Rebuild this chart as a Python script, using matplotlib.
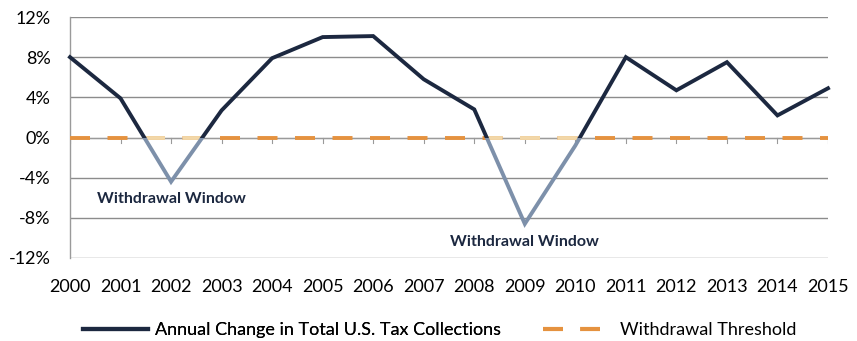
import numpy as np
import matplotlib
matplotlib.use("Agg")
import matplotlib.pyplot as plt
from matplotlib.patches import Rectangle
from matplotlib.lines import Line2D

years = list(range(2000, 2016))
tax_change = [8.0, 3.9, -4.4, 2.7, 7.9, 10.0, 10.1, 5.8, 2.8, -8.6, -0.8, 8.0, 4.7, 7.5, 2.2, 4.9]
threshold = [0.0] * len(years)
y_ticks = [-12, -8, -4, 0, 4, 8, 12]
window_labels = ["Withdrawal Window", "Withdrawal Window"]
window_label_pos = [(2002, -6.1), (2009, -10.4)]

DARK = "#1c2840"
LIGHT = "#7d90aa"
ORANGE = "#e5923f"
ORANGE_FADED = "#f2d7a8"

plt.rcParams['font.family'] = ['Lato', 'DejaVu Sans']

fig = plt.figure(figsize=(8.57, 3.41), dpi=100)
ax = fig.add_axes([70/857, 1-258/341, (828-70)/857, (258-17)/341])

ax.set_xlim(years[0], years[-1])
ax.set_ylim(-12, 12)
ax.set_yticks(y_ticks)
ax.set_yticklabels([f"{t}%" for t in y_ticks], fontsize=13)
ax.set_xticks(years)
ax.set_xticklabels([str(y) for y in years], fontsize=13)
ax.tick_params(axis='x', length=0, pad=15)
ax.tick_params(axis='y', length=0, pad=14)
for s in ['top', 'right', 'bottom']:
    ax.spines[s].set_visible(False)
ax.spines['left'].set_color('#9a9a9a')
ax.spines['left'].set_linewidth(1.0)
ax.yaxis.grid(True, color='#8c8c8c', linewidth=1.0)
ax.set_axisbelow(True)

# zero axis with small tick marks at each year
ax.axhline(0, color='#9a9a9a', linewidth=0.8, zorder=1)
for y in years:
    ax.plot([y, y], [0, -0.5], color='#9a9a9a', linewidth=0.8, zorder=1)

# determine spans where collections fall below threshold
x = np.array(years, dtype=float)
v = np.array(tax_change)
spans = []
start = None
for i in range(len(x) - 1):
    a, b = v[i], v[i+1]
    if a >= 0 and b < 0:
        start = x[i] + (x[i+1]-x[i]) * a / (a - b)
    if a < 0 and b >= 0:
        end = x[i] + (x[i+1]-x[i]) * a / (a - b)
        spans.append((start, end))

LW = 2.8
DASH = (14.4 / LW, 12.6 / LW)

# threshold line: normal color outside windows, faded inside
thr = ax.plot(years, threshold, color=ORANGE, linewidth=LW, zorder=3,
              dashes=DASH, dash_capstyle='butt')[0]
for (s0, s1) in spans:
    fl = ax.plot(years, threshold, color=ORANGE_FADED, linewidth=LW, zorder=3,
                 dashes=DASH, dash_capstyle='butt')[0]
    fl.set_clip_path(Rectangle((s0, -20), s1 - s0, 40, transform=ax.transData))

# tax line: dark above zero, light below zero
above = ax.plot(years, tax_change, color=DARK, linewidth=LW, zorder=4,
                solid_joinstyle='miter')[0]
above.set_clip_path(Rectangle((1990, 0), 40, 40, transform=ax.transData))
below = ax.plot(years, tax_change, color=LIGHT, linewidth=LW, zorder=4,
                solid_joinstyle='miter')[0]
below.set_clip_path(Rectangle((1990, -40), 40, 40, transform=ax.transData))

for txt, (xx, yy) in zip(window_labels, window_label_pos):
    ax.text(xx, yy, txt, ha='center', va='center', fontsize=11.5,
            fontweight='bold', color='#1c2840')

h1 = Line2D([], [], color=DARK, linewidth=3)
h2 = Line2D([], [], color=ORANGE, linewidth=3, dashes=(4.8, 4.1), dash_capstyle='butt')
leg1 = fig.legend([h1], ["Annual Change in Total U.S. Tax Collections"], loc='center left',
                  bbox_to_anchor=(83/857, 1-330/341), frameon=False, fontsize=13,
                  handlelength=3.6, handletextpad=0.4, borderpad=0, borderaxespad=0)
leg2 = fig.legend([h2], ["Withdrawal Threshold"], loc='center left',
                  bbox_to_anchor=(543/857, 1-330/341), frameon=False, fontsize=13,
                  handlelength=3.15, handletextpad=1.1, borderpad=0, borderaxespad=0)
fig.add_artist(leg1)

fig.savefig("out.png", dpi=100)
